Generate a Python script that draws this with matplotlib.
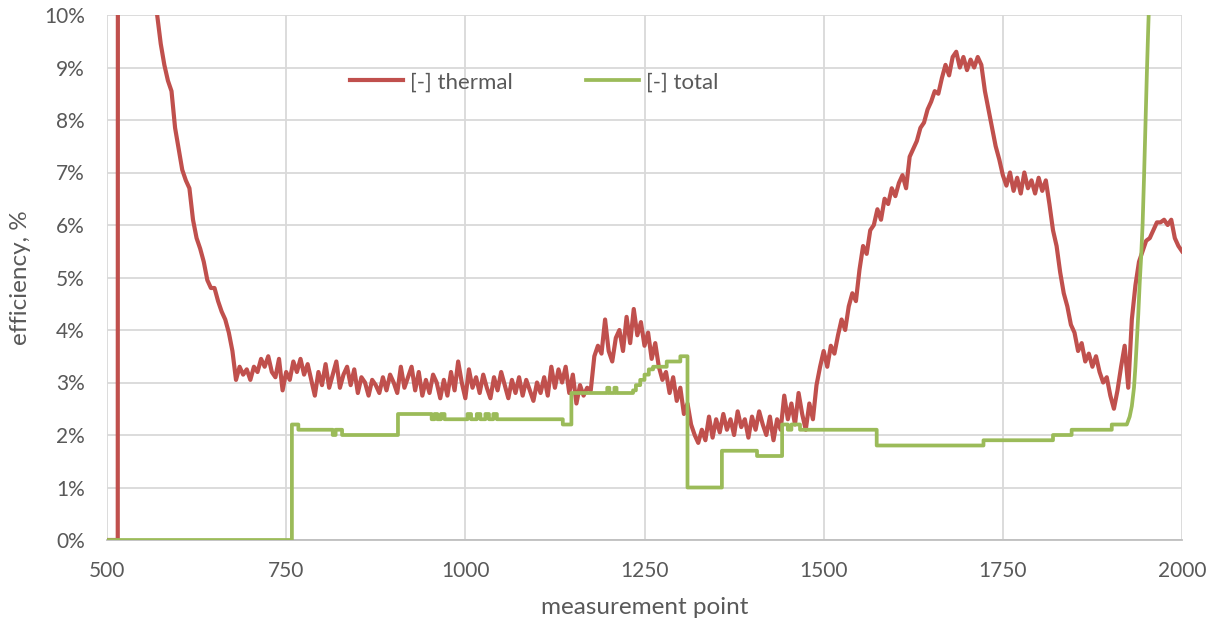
import matplotlib
matplotlib.use("Agg")
import matplotlib.pyplot as plt
from matplotlib.ticker import FuncFormatter, MultipleLocator

# ---------------- data ----------------
# thermal efficiency [%]; start (off-chart spike after 515) and main part (step 5 from 570)
thermal_head_x = [500, 515, 516, 545]
thermal_head_y = [0.0, 0.0, 60.0, 14.0]
thermal_main_start = 570
thermal_main_step = 5
thermal_main_y = [
    10.0, 9.45, 9.05, 8.75, 8.55, 7.85, 7.45, 7.05, 6.85, 6.7,      # 570-615
    6.1, 5.75, 5.55, 5.3, 4.95, 4.8, 4.8, 4.55, 4.35, 4.2,          # 620-665
    3.95, 3.6, 3.05, 3.3, 3.15, 3.25, 3.05, 3.3, 3.2, 3.45,         # 670-715
    3.3, 3.5, 3.2, 3.1, 3.45, 2.85, 3.2, 3.05, 3.4, 3.2,            # 720-765
    3.45, 3.15, 3.35, 3.05, 2.75, 3.2, 2.95, 3.35, 2.9, 3.15,       # 770-815
    3.4, 2.9, 3.15, 3.3, 2.95, 3.25, 2.8, 3.1, 3.0, 2.75,           # 820-865
    3.05, 2.95, 2.8, 3.1, 2.85, 3.15, 3.0, 2.8, 3.3, 2.9,           # 870-915
    3.1, 3.3, 2.85, 3.2, 2.75, 3.05, 2.8, 3.15, 3.0, 2.7,           # 920-965
    3.05, 2.75, 3.2, 2.85, 3.4, 3.0, 2.7, 3.25, 2.9, 3.1,           # 970-1015
    2.8, 3.15, 2.9, 2.7, 3.1, 2.85, 3.2, 2.95, 2.7, 3.05,           # 1020-1065
    2.8, 3.1, 2.75, 3.05, 2.85, 2.65, 3.0, 2.8, 3.1, 2.75,          # 1070-1115
    3.3, 2.9, 3.25, 3.0, 3.3, 2.8, 3.15, 2.6, 2.95, 2.75,           # 1120-1165
    2.9, 2.85, 3.5, 3.7, 3.55, 4.2, 3.6, 3.4, 3.85, 4.0,            # 1170-1215
    3.6, 4.25, 3.75, 4.4, 3.9, 4.15, 3.7, 3.95, 3.45, 3.75,         # 1220-1265
    3.3, 3.05, 3.2, 2.8, 3.1, 2.65, 2.9, 2.4, 2.6, 2.2,             # 1270-1315
    2.0, 1.85, 2.1, 1.9, 2.35, 1.95, 2.3, 2.05, 2.4, 2.1,           # 1320-1365
    2.3, 2.0, 2.45, 2.15, 2.3, 1.95, 2.35, 2.1, 2.45, 2.2,          # 1370-1415
    2.0, 2.35, 1.9, 2.3, 2.1, 2.75, 2.3, 2.6, 2.2, 2.8,             # 1420-1465
    2.4, 2.1, 2.6, 2.3, 2.95, 3.3, 3.6, 3.3, 3.7, 3.55,             # 1470-1515
    3.9, 4.2, 4.0, 4.45, 4.7, 4.55, 5.15, 5.6, 5.45, 5.9,           # 1520-1565
    6.0, 6.3, 6.1, 6.5, 6.4, 6.7, 6.55, 6.8, 6.95, 6.7,             # 1570-1615
    7.3, 7.45, 7.6, 7.85, 7.95, 8.2, 8.35, 8.55, 8.5, 8.8,          # 1620-1665
    9.05, 8.85, 9.2, 9.3, 9.0, 9.2, 8.95, 9.15, 9.0, 9.2,           # 1670-1715
    9.05, 8.55, 8.2, 7.85, 7.5, 7.25, 6.95, 6.75, 7.0, 6.65,        # 1720-1765
    6.9, 6.6, 7.0, 6.7, 6.85, 6.6, 6.9, 6.65, 6.85, 6.4,            # 1770-1815
    5.9, 5.6, 5.1, 4.7, 4.45, 4.1, 3.95, 3.6, 3.75, 3.4,            # 1820-1865
    3.55, 3.3, 3.5, 3.2, 3.0, 3.1, 2.75, 2.5, 2.85, 3.3,            # 1870-1915
    3.7, 2.9, 4.2, 4.85, 5.3, 5.5, 5.7, 5.75, 5.9, 6.05,            # 1920-1965
    6.05, 6.1, 6.0, 6.1, 5.75, 5.6, 5.5,                            # 1970-2000
]

# total efficiency [%]: step part (value holds from each x to the next x) ...
total_step_x = [500, 758, 767, 815, 819, 828, 906, 953, 957, 961, 966, 971,
                1003, 1008, 1016, 1021, 1028, 1033, 1039, 1044,
                1136, 1148, 1198, 1201, 1208, 1211,
                1234, 1238, 1244, 1250, 1256, 1262, 1281, 1300, 1310,
                1358, 1407, 1442, 1450, 1455, 1467, 1574, 1723, 1820, 1846, 1902,
                1923]
total_step_y = [0.0, 2.2, 2.1, 2.0, 2.1, 2.0, 2.4, 2.3, 2.4, 2.3, 2.4, 2.3,
                2.4, 2.3, 2.4, 2.3, 2.4, 2.3, 2.4, 2.3,
                2.2, 2.8, 2.9, 2.8, 2.9, 2.8,
                2.85, 2.95, 3.05, 3.15, 3.25, 3.3, 3.4, 3.5, 1.0,
                1.7, 1.6, 2.2, 2.1, 2.2, 2.1, 1.8, 1.9, 2.0, 2.1, 2.2,
                2.2]
# ... and the final smooth rise
total_ramp_x = [1923, 1927, 1930, 1933, 1935, 1937, 1939, 1941, 1943, 1945,
                1947, 1949, 1951, 1953, 1955, 1960]
total_ramp_y = [2.2, 2.35, 2.55, 2.9, 3.3, 3.8, 4.3, 4.9, 5.4, 6.0,
                6.9, 7.9, 8.9, 9.8, 10.6, 13.0]

series_labels = ["[-] thermal", "[-] total"]
x_ticks = [500, 750, 1000, 1250, 1500, 1750, 2000]

# ---------------- build ----------------
thermal_x = thermal_head_x + [thermal_main_start + i * thermal_main_step
                              for i in range(len(thermal_main_y))]
thermal_y = thermal_head_y + thermal_main_y

total_x, total_y = [], []
for i in range(len(total_step_x) - 1):
    total_x += [total_step_x[i], total_step_x[i + 1]]
    total_y += [total_step_y[i], total_step_y[i]]
total_x += total_ramp_x
total_y += total_ramp_y

RED = "#C0504D"
GREEN = "#9BBB59"
GRID = "#D9D9D9"
TXT = "#595959"

plt.rcParams["font.family"] = ["Lato", "DejaVu Sans"]

fig = plt.figure(figsize=(12.18, 6.28), dpi=100)
ax = fig.add_axes([107 / 1218, 88 / 628, 1075 / 1218, 525 / 628])

ax.plot(thermal_x, thermal_y, color=RED, lw=3.0, label=series_labels[0],
        solid_joinstyle="round", zorder=3)
ax.plot(total_x, total_y, color=GREEN, lw=2.7, label=series_labels[1],
        solid_joinstyle="round", zorder=4)

ax.set_xlim(500, 2000)
ax.set_ylim(0, 10)
ax.set_xticks(x_ticks)
ax.yaxis.set_major_locator(MultipleLocator(1))
ax.yaxis.set_major_formatter(FuncFormatter(lambda v, p: f"{v:.0f}%"))

ax.grid(True, color=GRID, lw=1.3, zorder=0)
ax.set_axisbelow(True)
for s in ["top", "right", "left"]:
    ax.spines[s].set_visible(False)
ax.spines["bottom"].set_color("#BFBFBF")
ax.spines["bottom"].set_linewidth(1.3)
ax.tick_params(axis="both", length=0, labelsize=15, colors=TXT)
ax.tick_params(axis="x", pad=15)
ax.tick_params(axis="y", pad=16)

ax.set_xlabel("measurement point", fontsize=17.5, color=TXT, labelpad=12)
ax.set_ylabel("efficiency, %", fontsize=17.5, color=TXT, labelpad=9)

leg = ax.legend(loc="center", bbox_to_anchor=(0.397, 0.872), ncol=2, frameon=False,
                fontsize=16, handlelength=2.4, columnspacing=3.3, handletextpad=0.3)
for t in leg.get_texts():
    t.set_color(TXT)

fig.savefig("out.png", dpi=100)
